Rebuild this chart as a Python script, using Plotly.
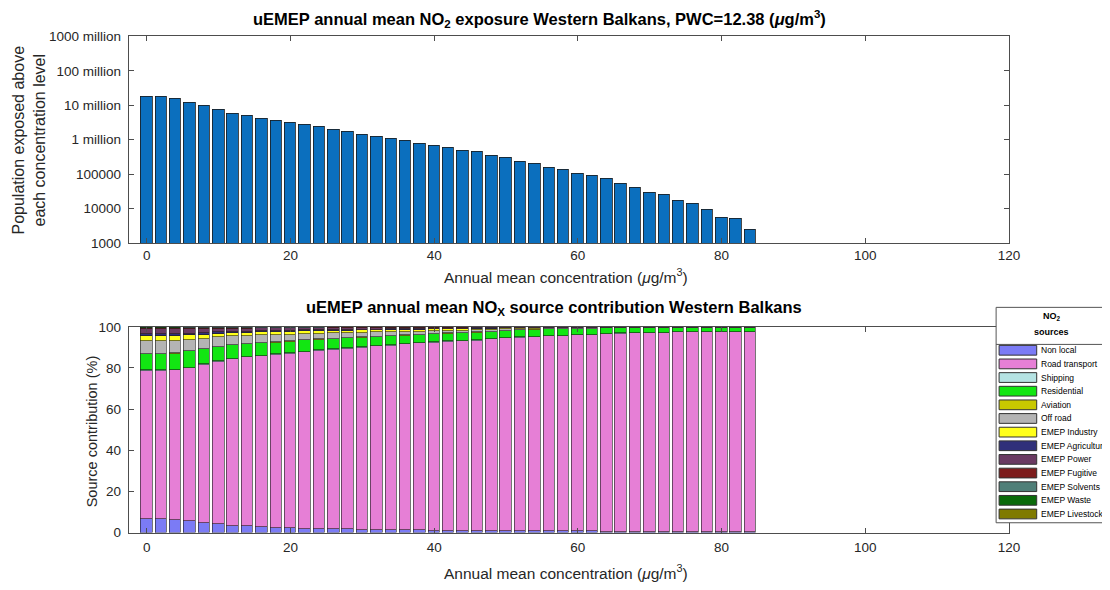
import plotly.graph_objects as go

W, H = 1110, 590
FONT = "Liberation Sans, Arial, sans-serif"

# concentration bins (ug/m3)
conc = [0, 2, 4, 6, 8, 10, 12, 14, 16, 18, 20, 22, 24, 26, 28, 30, 32, 34, 36, 38, 40,
        42, 44, 46, 48, 50, 52, 54, 56, 58, 60, 62, 64, 66, 68, 70, 72, 74, 76, 78, 80, 82, 84]

# population exposed above each level
pop = [1.87e7, 1.78e7, 1.6e7, 1.25e7, 9.8e6, 7.5e6, 6.0e6, 5.2e6, 4.2e6, 3.7e6, 3.2e6,
       2.75e6, 2.37e6, 2.03e6, 1.71e6, 1.46e6, 1.25e6, 1.09e6, 9.4e5, 8.0e5, 6.7e5,
       5.8e5, 4.8e5, 4.5e5, 3.6e5, 2.97e5, 2.36e5, 1.99e5, 1.6e5, 1.36e5, 1.07e5,
       9.2e4, 7.5e4, 5.5e4, 4.1e4, 3.0e4, 2.5e4, 1.74e4, 1.45e4, 9.3e3, 5.7e3, 5.2e3, 2.5e3]

pop_tickvals = [1e3, 1e4, 1e5, 1e6, 1e7, 1e8, 1e9]
pop_ticktext = ["1000", "10000", "100000", "1 million", "10 million", "100 million", "1000 million"]

# source contributions (%)
non_local = [6.8, 6.5, 6.1, 5.5, 4.6, 4.0, 3.4, 3.1, 2.8, 2.4, 2.2, 2.0, 1.8, 1.7, 1.6, 1.5, 1.4, 1.3,
             1.2, 1.1, 1.0, 1.0, 0.9, 0.9, 0.8, 0.8, 0.7, 0.7, 0.7, 0.6, 0.6, 0.6, 0.5, 0.5, 0.5, 0.5,
             0.4, 0.4, 0.4, 0.4, 0.4, 0.3, 0.3]
road = [71.8, 72.1, 72.9, 74.5, 77.0, 79.2, 80.9, 82.1, 83.0, 84.0, 84.9, 85.8, 86.6, 87.3, 87.9,
        88.5, 89.2, 89.7, 90.4, 91.0, 91.4, 91.8, 92.1, 92.4, 93.2, 93.7, 94.1, 94.5, 94.8, 95.1,
        95.4, 95.5, 96.0, 96.3, 96.5, 96.7, 96.8, 97.0, 97.1, 97.1, 97.3, 97.4, 97.4]
shipping = [0.3, 0.3, 0.3, 0.3, 0.3, 0.3, 0.3, 0.3, 0.3, 0.3, 0.2, 0.2, 0.2, 0.2, 0.2, 0.2, 0.2, 0.2,
            0.2, 0.2, 0.2, 0.2, 0.2, 0.2, 0.2, 0.2, 0.2, 0.1, 0.1, 0.1, 0.1, 0.1, 0.1, 0.1, 0.1, 0.1,
            0.1, 0.1, 0.1, 0.1, 0.1, 0.1, 0.1]
residential = [7.9, 7.9, 7.8, 7.8, 7.3, 6.8, 6.6, 6.1, 6.0, 5.7, 5.6, 5.6, 5.3, 4.9, 4.8, 4.6, 4.4,
               4.3, 4.0, 3.8, 3.9, 3.8, 3.7, 3.8, 3.5, 3.4, 3.4, 3.4, 3.3, 3.3, 3.1, 3.0, 2.7, 2.4,
               2.2, 2.0, 2.0, 1.8, 1.7, 1.7, 1.5, 1.5, 1.5]
aviation = [0.2, 0.2, 0.2, 0.2, 0.2, 0.2, 0.2, 0.2, 0.2, 0.2, 0.2, 0.2, 0.2, 0.2, 0.2, 0.2, 0.1, 0.1,
            0.1, 0.1, 0.1, 0.1, 0.1, 0.1, 0.1, 0.1, 0.1, 0.1, 0.1, 0.1, 0.0, 0.0, 0.0, 0.0, 0.0, 0.0,
            0.0, 0.0, 0.0, 0.0, 0.0, 0.0, 0.0]
off_road = [6.0, 6.0, 5.9, 5.4, 4.9, 4.4, 4.0, 3.8, 3.6, 3.4, 3.2, 2.9, 2.7, 2.6, 2.4, 2.3, 2.1, 1.9,
            1.8, 1.6, 1.4, 1.3, 1.2, 1.0, 0.8, 0.6, 0.5, 0.4, 0.3, 0.2, 0.2, 0.2, 0.1, 0.1, 0.1, 0.1,
            0.1, 0.1, 0.1, 0.1, 0.1, 0.1, 0.1]
industry = [2.4, 2.4, 2.4, 2.2, 2.0, 1.8, 1.7, 1.6, 1.5, 1.5, 1.4, 1.3, 1.2, 1.2, 1.1, 1.1, 1.0, 1.0,
            1.0, 0.9, 0.9, 0.8, 0.8, 0.7, 0.6, 0.5, 0.4, 0.3, 0.3, 0.2, 0.2, 0.2, 0.1, 0.1, 0.1, 0.1,
            0.1, 0.1, 0.1, 0.1, 0.1, 0.1, 0.1]
agriculture = [1.0, 1.0, 0.9, 0.9, 0.8, 0.7, 0.6, 0.6, 0.5, 0.5, 0.5, 0.4, 0.4, 0.4, 0.4, 0.3, 0.3,
               0.3, 0.3, 0.3, 0.2, 0.2, 0.2, 0.2, 0.2, 0.1, 0.1, 0.1, 0.1, 0.1, 0.1, 0.1, 0.1, 0.1,
               0.1, 0.1, 0.1, 0.1, 0.1, 0.1, 0.1, 0.1, 0.1]
power = [2.4, 2.4, 2.3, 2.1, 1.9, 1.7, 1.5, 1.4, 1.4, 1.3, 1.2, 1.0, 1.0, 1.0, 0.9, 0.8, 0.8, 0.8,
         0.7, 0.7, 0.6, 0.5, 0.5, 0.5, 0.4, 0.4, 0.3, 0.3, 0.2, 0.2, 0.2, 0.2, 0.2, 0.2, 0.2, 0.2,
         0.2, 0.2, 0.2, 0.2, 0.2, 0.2, 0.2]
fugitive = [0.6, 0.6, 0.6, 0.6, 0.5, 0.5, 0.4, 0.4, 0.4, 0.4, 0.3, 0.3, 0.3, 0.3, 0.3, 0.3, 0.3, 0.2,
            0.2, 0.2, 0.2, 0.2, 0.2, 0.1, 0.1, 0.1, 0.1, 0.1, 0.1, 0.1, 0.1, 0.1, 0.1, 0.1, 0.1, 0.1,
            0.1, 0.1, 0.1, 0.1, 0.1, 0.1, 0.1]
solvents = [0.3, 0.3, 0.3, 0.3, 0.3, 0.2, 0.2, 0.2, 0.1, 0.1, 0.1, 0.1, 0.1, 0.1, 0.1, 0.1, 0.1, 0.1,
            0.1, 0.1, 0.1, 0.1, 0.1, 0.1, 0.1, 0.1, 0.1, 0.0, 0.0, 0.0, 0.0, 0.0, 0.1, 0.1, 0.1, 0.1,
            0.1, 0.1, 0.1, 0.1, 0.1, 0.1, 0.1]
waste = [0.2, 0.2, 0.2, 0.1, 0.1, 0.1, 0.1, 0.1, 0.1, 0.1, 0.1, 0.1, 0.1, 0.1, 0.1, 0.1, 0.1, 0.1,
         0.0, 0.0, 0.0, 0.0, 0.0, 0.0, 0.0, 0.0, 0.0, 0.0, 0.0, 0.0, 0.0, 0.0, 0.0, 0.0, 0.0, 0.0,
         0.0, 0.0, 0.0, 0.0, 0.0, 0.0, 0.0]
livestock = [0.1, 0.1, 0.1, 0.1, 0.1, 0.1, 0.1, 0.1, 0.1, 0.1, 0.1, 0.1, 0.1, 0.0, 0.0, 0.0, 0.0, 0.0,
             0.0, 0.0, 0.0, 0.0, 0.0, 0.0, 0.0, 0.0, 0.0, 0.0, 0.0, 0.0, 0.0, 0.0, 0.0, 0.0, 0.0, 0.0,
             0.0, 0.0, 0.0, 0.0, 0.0, 0.0, 0.0]

source_names = ["Non local", "Road transport", "Shipping", "Residential", "Aviation", "Off road",
                "EMEP Industry", "EMEP Agriculture", "EMEP Power", "EMEP Fugitive",
                "EMEP Solvents", "EMEP Waste", "EMEP Livestock"]
source_values = [non_local, road, shipping, residential, aviation, off_road, industry,
                 agriculture, power, fugitive, solvents, waste, livestock]
source_colors = ["#7b7bf5", "#e67fd6", "#b5e3e3", "#12e612", "#c8c800", "#b4b4b4", "#ffff1a",
                 "#30307a", "#6a3a62", "#7d1c1c", "#4f7f78", "#0a6a0a", "#7f7a00"]


def px(x):
    return x / W


def py(y):
    return 1 - y / H


x_dom = [px(122), px(1011)]
x_range = [-2.5, 120]
axis_col = "#4d4d4d"
tick_font = dict(family=FONT, size=13.5, color="#262626")

fig = go.Figure()

fig.add_trace(go.Bar(x=conc, y=pop, width=1.6, marker_color="#0b6fbe",
                     marker_line=dict(color="#1a1a1a", width=0.8),
                     xaxis="x", yaxis="y", showlegend=False))

for name, vals, col in zip(source_names, source_values, source_colors):
    fig.add_trace(go.Bar(x=conc, y=vals, name=name, width=1.6, marker_color=col,
                         marker_line=dict(color="#1a1a1a", width=0.6),
                         xaxis="x2", yaxis="y2", showlegend=False))

ax_common = dict(showline=True, linecolor=axis_col, linewidth=1, mirror="ticks",
                 ticks="inside", ticklen=5, tickcolor=axis_col, tickfont=tick_font,
                 showgrid=False, zeroline=False)

fig.update_layout(
    width=W, height=H,
    margin=dict(l=0, r=0, t=0, b=0),
    paper_bgcolor="white", plot_bgcolor="white",
    barmode="stack", bargap=0,
    font=dict(family=FONT, color="#262626"),
    xaxis=dict(domain=x_dom, range=x_range, anchor="y",
               tickvals=[0, 20, 40, 60, 80, 100, 120], **ax_common),
    yaxis=dict(domain=[py(234), py(22)], type="log", range=[3, 9], anchor="x",
               tickvals=pop_tickvals, ticktext=pop_ticktext, ticklabelstandoff=4, **ax_common),
    xaxis2=dict(domain=x_dom, range=x_range, anchor="y2",
                tickvals=[0, 20, 40, 60, 80, 100, 120], ticklabelstandoff=2, **ax_common),
    yaxis2=dict(domain=[py(531), py(320)], range=[0, 100], anchor="x2",
                tickvals=[0, 20, 40, 60, 80, 100], ticklabelstandoff=4, **ax_common),
)

ann = []
# titles
ann.append(dict(x=px(537), y=py(4), text="<b>uEMEP annual mean NO<sub>2</sub> exposure Western Balkans, PWC=12.38 (<i>μ</i>g/m<sup>3</sup>)</b>",
                font=dict(family=FONT, size=16.5, color="black")))
ann.append(dict(x=px(551), y=py(301), text="<b>uEMEP annual mean NO<sub>X</sub> source contribution Western Balkans</b>",
                font=dict(family=FONT, size=16.5, color="black")))
# axis titles
for yy in [268, 572]:
    ann.append(dict(x=px(564), y=py(yy), text="Annual mean concentration (<i>μ</i>g/m<sup>3</sup>)",
                    font=dict(family=FONT, size=15.5, color="#262626")))
ann.append(dict(x=px(21), y=py(128), text="Population exposed above<br>each concentration level",
                textangle=-90, font=dict(family=FONT, size=16, color="#262626")))
ann.append(dict(x=px(85), y=py(427), text="Source contribution (%)",
                textangle=-90, font=dict(family=FONT, size=14.5, color="#262626")))

shapes = []
# legend box
leg_l, leg_r, leg_t, leg_b = 998, 1112, 300, 521
shapes.append(dict(type="rect", xref="paper", yref="paper", x0=px(leg_l), x1=px(leg_r),
                   y0=py(leg_b), y1=py(leg_t), line=dict(color="#555555", width=1),
                   fillcolor="white", layer="above"))
shapes.append(dict(type="line", xref="paper", yref="paper", x0=px(leg_l), x1=px(leg_r),
                   y0=py(338), y1=py(338), line=dict(color="#555555", width=1), layer="above"))
ann.append(dict(x=px(1054), y=py(309), text="<b>NO<sub>2</sub></b>",
                font=dict(family=FONT, size=9, color="black")))
ann.append(dict(x=px(1054), y=py(325), text="<b>sources</b>",
                font=dict(family=FONT, size=9, color="black")))
for i, (name, col) in enumerate(zip(source_names, source_colors)):
    yc = 344 + i * 14.0
    shapes.append(dict(type="rect", xref="paper", yref="paper", x0=px(1001), x1=px(1039),
                       y0=py(yc + 5), y1=py(yc - 5), fillcolor=col,
                       line=dict(color="#333333", width=1), layer="above"))
    ann.append(dict(x=px(1041), y=py(yc), text=name, xanchor="left",
                    font=dict(family=FONT, size=8.5, color="black")))

for a in ann:
    a.setdefault("xref", "paper")
    a.setdefault("yref", "paper")
    a.setdefault("showarrow", False)
    a.setdefault("xanchor", "center")
    a.setdefault("yanchor", "middle")

fig.update_layout(annotations=ann, shapes=shapes)

fig.write_html("out.html")
